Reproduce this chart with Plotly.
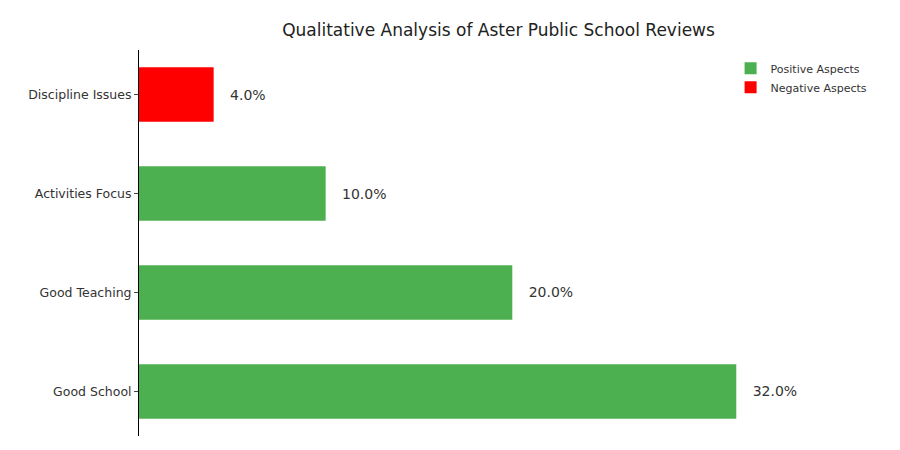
import plotly.graph_objects as go

categories = ["Good School", "Good Teaching", "Activities Focus", "Discipline Issues"]
values = [32.0, 20.0, 10.0, 4.0]
kinds = ["Positive", "Positive", "Positive", "Negative"]

fig = go.Figure()
for kind, name, color in [("Positive", "Positive Aspects", "#4CAF50"), ("Negative", "Negative Aspects", "#FF0000")]:
    ys = [i for i, k in enumerate(kinds) if k == kind]
    xs = [values[i] for i in ys]
    fig.add_trace(go.Bar(
        x=xs, y=ys, orientation="h", width=0.55, name=name,
        marker=dict(color=color, line=dict(width=0)),
        text=[f"   {v:.1f}%" for v in xs], textposition="outside",
        textfont=dict(size=14, color="#333333"), cliponaxis=False,
    ))

fig.update_layout(
    width=900, height=450,
    margin=dict(l=131, r=28, t=42, b=22, autoexpand=False),
    plot_bgcolor="white", paper_bgcolor="white",
    font=dict(family="DejaVu Sans", color="#333333"),
    title=dict(text="Qualitative Analysis of Aster Public School Reviews", x=0.545, xanchor="center",
               y=0.95, yanchor="middle", font=dict(size=17, color="#222222")),
    legend=dict(x=0.99, y=0.99, xanchor="right", yanchor="top", font=dict(size=11),
                traceorder="normal", bgcolor="rgba(0,0,0,0)"),
    bargap=0.45,
)
fig.update_xaxes(range=[0, 39.7], visible=False, showgrid=False)
fig.update_yaxes(range=[-0.45, 3.45], tickvals=list(range(4)), ticktext=categories,
                 showline=True, linecolor="black", ticks="outside", ticklen=4,
                 tickfont=dict(size=12.5), showgrid=False, zeroline=False, automargin=False)
fig.write_html("out.html")
